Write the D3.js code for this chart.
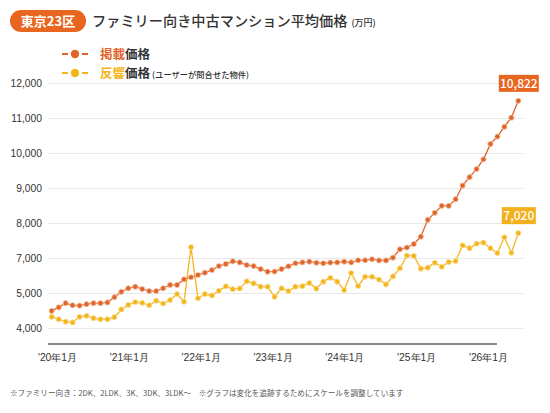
<!DOCTYPE html>
<html>
<head>
<meta charset="utf-8">
<script src="https://cdn.jsdelivr.net/npm/d3@7"></script>
<style>
  html, body { margin: 0; padding: 0; background: #fff; }
  svg { display: block; font-family: "Noto Sans CJK JP", "Noto Sans", sans-serif; }
</style>
</head>
<body>
<svg id="chart" width="550" height="413"></svg>
<script>
// monthly values (万円)
var listed = [4490, 4590, 4710, 4650, 4640, 4680, 4710, 4710, 4730, 4880, 5070, 5270,
              5360, 5230, 5110, 5110, 5270, 5460, 5460, 5780, 5900, 6030, 6160, 6310,
              6540, 6660, 6810, 6750, 6600, 6540, 6370, 6220, 6230, 6370, 6530, 6700,
              6750, 6790, 6730, 6700, 6740, 6750, 6790, 6750, 6870, 6870, 6930, 6860,
              6860, 7010, 7250, 7300, 7400, 7610, 8090, 8290, 8490, 8490, 8680, 9070,
              9310, 9540, 9820, 10260, 10470, 10750, 11010, 11490];
var inquired = [4320, 4250, 4180, 4160, 4320, 4350, 4280, 4250, 4250, 4310, 4530, 4660,
                4740, 4720, 4650, 4780, 4700, 4800, 4970, 4750, 7310, 4850, 4970, 4930,
                5130, 5380, 5220, 5260, 5670, 5550, 5360, 5360, 4890, 5270, 5110, 5360,
                5390, 5570, 5250, 5650, 5870, 5650, 5170, 6140, 5400, 5930, 5930, 5770,
                5490, 5950, 6410, 7070, 7060, 6390, 6450, 6730, 6500, 6770, 6830, 7360,
                7280, 7410, 7440, 7280, 7140, 7590, 7150, 7710];

// y axis is adjusted (gap between 5,000 and 7,000)
var yTicks = [4000, 5000, 7000, 8000, 9000, 10000, 11000, 12000];
var xTicks = ["'20年1月", "'21年1月", "'22年1月", "'23年1月", "'24年1月", "'25年1月", "'26年1月"];
var lastLabels = ["10,822", "7,020"];

var RED = '#e0632a', YELLOW = '#f3b51b';

var svg = d3.select('#chart');

var x = d3.scaleLinear().domain([0, listed.length - 1]).range([51.7, 518.3]);
var y = d3.scaleLinear().domain(yTicks).range([328, 293, 258, 223, 188, 153, 118, 83]);
var xLab = d3.scalePoint().domain(xTicks).range([57, 488]);

// title
svg.append('rect')
    .attr('x', 10).attr('y', 10).attr('width', 76).attr('height', 22).attr('rx', 11)
    .attr('fill', '#e8661f');
svg.append('text')
    .attr('x', 48).attr('y', 26).attr('text-anchor', 'middle')
    .attr('fill', '#fff').attr('font-size', 13).attr('font-weight', 700)
    .text('東京23区');
var title = svg.append('text')
    .attr('x', 92).attr('y', 26).attr('fill', '#333')
    .attr('font-size', 14.2).attr('font-weight', 500);
title.append('tspan').text('ファミリー向き中古マンション平均価格');
title.append('tspan').attr('font-size', 9).attr('dx', 4).text('(万円)');

// legend
var legend = [
    {color: RED, word: '掲載', note: ''},
    {color: YELLOW, word: '反響', note: '(ユーザーが問合せた物件)'}
];
for (var i=0; i<legend.length; i++)
{
    var ly = 54 + i*19;
    var lg = svg.append('g');
    lg.append('line').attr('x1', 62).attr('x2', 68).attr('y1', ly).attr('y2', ly)
        .attr('stroke', legend[i].color).attr('stroke-width', 2);
    lg.append('line').attr('x1', 82).attr('x2', 88).attr('y1', ly).attr('y2', ly)
        .attr('stroke', legend[i].color).attr('stroke-width', 2);
    lg.append('circle').attr('cx', 75).attr('cy', ly).attr('r', 4.2)
        .attr('fill', legend[i].color);
    var t = lg.append('text').attr('x', 100).attr('y', ly + 4.5)
        .attr('font-size', 12.5).attr('font-weight', 700).attr('fill', '#333');
    t.append('tspan').attr('fill', legend[i].color).text(legend[i].word);
    t.append('tspan').text('価格');
    if (legend[i].note)
        t.append('tspan').attr('font-size', 8.3).attr('font-weight', 500).attr('dx', 2)
            .text(legend[i].note);
}

// grid + y labels
var yAxis = d3.axisLeft(y).tickValues(yTicks).tickSize(-475)
    .tickFormat(d3.format(','));
var gy = svg.append('g').attr('transform', 'translate(48,0)').call(yAxis);
gy.select('.domain').remove();
gy.selectAll('.tick line').attr('stroke', '#e8e8e8').attr('stroke-width', 1);
gy.selectAll('.tick text').attr('x', -6).attr('fill', '#333')
    .attr('font-size', 10.3).attr('font-family', 'inherit');

// x axis
svg.append('line')
    .attr('x1', 48).attr('x2', 497).attr('y1', 344).attr('y2', 344)
    .attr('stroke', '#8a8a8a').attr('stroke-width', 2);
var gx = svg.append('g').attr('transform', 'translate(0,346)')
    .call(d3.axisBottom(xLab).tickSize(0));
gx.select('.domain').remove();
gx.selectAll('.tick text').attr('dy', 12).attr('fill', '#333')
    .attr('font-size', 10.3).attr('font-family', 'inherit');

// series
function drawSeries(values, color, ring)
{
    var line = d3.line().x(function(d, i) { return x(i); }).y(function(d) { return y(d); });
    svg.append('path').datum(values)
        .attr('fill', 'none').attr('stroke', color).attr('stroke-width', 1.3)
        .attr('d', line);
    svg.append('g').selectAll('circle').data(values).enter().append('circle')
        .attr('cx', function(d, i) { return x(i); })
        .attr('cy', function(d) { return y(d); })
        .attr('r', 2.6)
        .attr('fill', color)
        .attr('stroke', ring).attr('stroke-width', 0.8);
}
drawSeries(inquired, YELLOW, '#fbe2a0');
drawSeries(listed, RED, '#f5c4a6');

// last value boxes
var ends = [
    {v: listed[listed.length-1], color: '#e8661f', label: lastLabels[0]},
    {v: inquired[inquired.length-1], color: '#f2b01c', label: lastLabels[1]}
];
for (var i=0; i<ends.length; i++)
{
    var cx = x(listed.length - 1), cy = y(ends[i].v);
    var w = i == 0 ? 40 : 34;
    svg.append('rect')
        .attr('x', cx - w/2 + 0.5).attr('y', cy - 26).attr('width', w).attr('height', 17)
        .attr('fill', ends[i].color);
    svg.append('text')
        .attr('x', cx + 0.5).attr('y', cy - 13.3).attr('text-anchor', 'middle')
        .attr('fill', '#fff').attr('font-size', 12).attr('font-weight', 500)
        .text(ends[i].label);
}

// footnote
svg.append('text')
    .attr('x', 10).attr('y', 396).attr('fill', '#555').attr('font-size', 7.6)
    .text('※ファミリー向き：2DK、2LDK、3K、3DK、3LDK〜　※グラフは変化を追跡するためにスケールを調整しています');
</script>
</body>
</html>
